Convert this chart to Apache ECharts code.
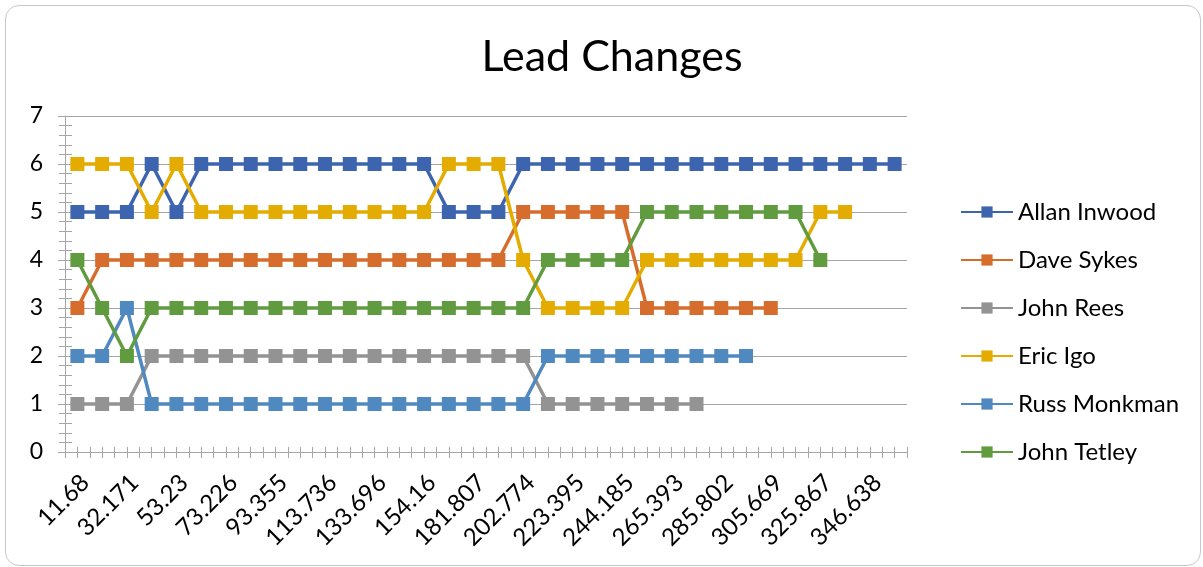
<!DOCTYPE html>
<html>
<head>
<meta charset="utf-8">
<title>Lead Changes</title>
<script src="https://cdn.jsdelivr.net/npm/echarts@6/dist/echarts.min.js"></script>
<style>
  html, body { margin: 0; padding: 0; background: #fff; }
  #frame {
    position: absolute; left: 5px; top: 5px;
    width: 1194px; height: 559px;
    border: 1px solid #c8c8c8; border-radius: 14px;
  }
  #chart { position: absolute; left: 0; top: 0; width: 1203px; height: 567px; }
</style>
</head>
<body>
<div id="frame"></div>
<div id="chart"></div>
<script>
// x categories (only every other one is labelled in the source chart)
const categories = [
  "11.68", "22.05", "32.171", "42.6", "53.23", "63.4", "73.226", "83.2",
  "93.355", "103.6", "113.736", "123.8", "133.696", "143.9", "154.16", "167.9",
  "181.807", "192.3", "202.774", "213.1", "223.395", "233.8", "244.185", "254.7",
  "265.393", "275.6", "285.802", "295.7", "305.669", "315.8", "325.867", "336.2",
  "346.638", "357.0"
];

const yTicks = [0, 1, 2, 3, 4, 5, 6, 7];

const allanInwood = [5, 5, 5, 6, 5, 6, 6, 6, 6, 6, 6, 6, 6, 6, 6, 5, 5, 5,
  6, 6, 6, 6, 6, 6, 6, 6, 6, 6, 6, 6, 6, 6, 6, 6];
const daveSykes = [3, 4, 4, 4, 4, 4, 4, 4, 4, 4, 4, 4, 4, 4, 4, 4, 4, 4,
  5, 5, 5, 5, 5, 3, 3, 3, 3, 3, 3];
const johnRees = [1, 1, 1, 2, 2, 2, 2, 2, 2, 2, 2, 2, 2, 2, 2, 2, 2, 2,
  2, 1, 1, 1, 1, 1, 1, 1];
const ericIgo = [6, 6, 6, 5, 6, 5, 5, 5, 5, 5, 5, 5, 5, 5, 5, 6, 6, 6,
  4, 3, 3, 3, 3, 4, 4, 4, 4, 4, 4, 4, 5, 5];
const russMonkman = [2, 2, 3, 1, 1, 1, 1, 1, 1, 1, 1, 1, 1, 1, 1, 1, 1, 1,
  1, 2, 2, 2, 2, 2, 2, 2, 2, 2];
const johnTetley = [4, 3, 2, 3, 3, 3, 3, 3, 3, 3, 3, 3, 3, 3, 3, 3, 3, 3,
  3, 4, 4, 4, 4, 5, 5, 5, 5, 5, 5, 5, 4];

const riders = [
  { name: "Allan Inwood", values: allanInwood, color: "#3d64ae" },
  { name: "Dave Sykes", values: daveSykes, color: "#d66d2c" },
  { name: "John Rees", values: johnRees, color: "#939393" },
  { name: "Eric Igo", values: ericIgo, color: "#e4ab00" },
  { name: "Russ Monkman", values: russMonkman, color: "#4f89c0" },
  { name: "John Tetley", values: johnTetley, color: "#609b3f" },
];

const FONT = "Lato, 'Open Sans', sans-serif";
const axisGray = "#a6a6a6";

const chart = echarts.init(document.getElementById("chart"), null, { renderer: "canvas" });

// extra axes only draw the tick marks that cross the main axis lines
const tickXAxis = (alignWithLabel) => ({
  type: "category",
  data: categories,
  position: "bottom",
  offset: -5,
  boundaryGap: true,
  axisLine: { show: false },
  axisLabel: { show: false },
  splitLine: { show: false },
  axisTick: {
    show: true,
    interval: 0,
    alignWithLabel: alignWithLabel,
    length: 11,
    lineStyle: { color: axisGray, width: 1 },
  },
});

const option = {
  animation: false,
  backgroundColor: "transparent",
  title: {
    text: "Lead Changes",
    left: 607,
    top: 31,
    textAlign: "center",
    textStyle: { fontFamily: FONT, fontSize: 43, fontWeight: "normal", color: "#000" },
  },
  legend: {
    orient: "vertical",
    left: 955,
    top: 194,
    itemWidth: 52,
    itemHeight: 14,
    itemGap: 22,
    textStyle: { fontFamily: FONT, fontSize: 24, color: "#000", lineHeight: 26 },
    data: riders.map((r) => r.name),
  },
  grid: { left: 65, right: 296, top: 116, bottom: 115, containLabel: false },
  xAxis: [
    {
      type: "category",
      data: categories,
      boundaryGap: true,
      axisLine: { show: true, lineStyle: { color: axisGray, width: 1 } },
      axisTick: { show: false },
      axisLabel: {
        interval: 1,
        rotate: 45,
        margin: 19,
        verticalAlign: "top",
        lineHeight: 22,
        fontFamily: FONT,
        fontSize: 24,
        color: "#000",
      },
    },
    tickXAxis(false),
    tickXAxis(true),
  ],
  yAxis: [
    {
      type: "value",
      min: yTicks[0],
      max: yTicks[yTicks.length - 1],
      interval: 1,
      axisLine: { show: true, lineStyle: { color: axisGray, width: 1 } },
      axisTick: { show: false },
      axisLabel: { margin: 22, fontFamily: FONT, fontSize: 23, color: "#000" },
      splitLine: { show: true, lineStyle: { color: axisGray, width: 1 } },
    },
    {
      type: "value",
      min: yTicks[0],
      max: yTicks[yTicks.length - 1],
      interval: 1,
      position: "left",
      offset: -7,
      axisLine: { show: false },
      axisLabel: { show: false },
      splitLine: { show: false },
      axisTick: { show: true, length: 14, lineStyle: { color: axisGray, width: 1 } },
      minorTick: { show: true, splitNumber: 5, length: 13, lineStyle: { color: axisGray, width: 1 } },
    },
  ],
  series: riders.map((r) => ({
    name: r.name,
    type: "line",
    xAxisIndex: 0,
    yAxisIndex: 0,
    data: r.values,
    color: r.color,
    symbol: "rect",
    symbolSize: 14,
    showAllSymbol: true,
    lineStyle: { width: 3.5, color: r.color },
    itemStyle: { color: r.color },
  })),
};

chart.setOption(option);
</script>
</body>
</html>
